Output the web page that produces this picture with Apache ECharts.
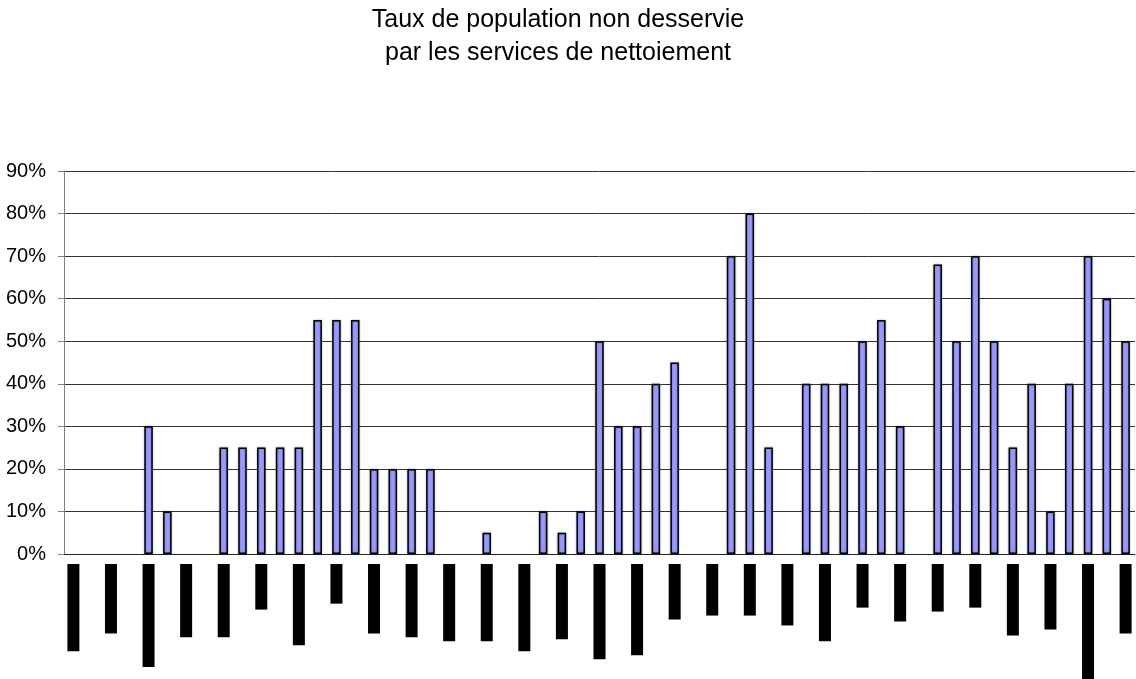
<!DOCTYPE html>
<html>
<head>
<meta charset="utf-8">
<script src="https://cdn.jsdelivr.net/npm/echarts@6/dist/echarts.min.js"></script>
<style>
  html, body { margin: 0; padding: 0; background: #fff; }
  #main { width: 1136px; height: 679px; }
</style>
</head>
<body>
<div id="main"></div>
<script>
// 57 categories, labels are unreadable (shown as black blocks in the source)
var categories = [];
for (var i = 1; i <= 57; i++) categories.push('C' + i);

// taux de population non desservie (%), null = no bar
var rates = [
  null, null, null, null, 30, 10, null, null, 25, 25,
  25, 25, 25, 55, 55, 55, 20, 20, 20, 20,
  null, null, 5, null, null, 10, 5, 10, 50, 30,
  30, 40, 45, null, null, 70, 80, 25, null, 40,
  40, 40, 50, 55, 30, null, 68, 50, 70, 50,
  25, 40, 10, 40, 70, 60, 50
];

// length of the (masked) category labels, one every two categories
var labelLength = [
  88, null, 70, null, 104, null, 74, null, 74, null,
  46, null, 82, null, 40, null, 70, null, 74, null,
  78, null, 78, null, 88, null, 76, null, 96, null,
  92, null, 56, null, 52, null, 52, null, 62, null,
  78, null, 44, null, 58, null, 48, null, 44, null,
  72, null, 66, null, 120, null, 70
];

var yTicks = [0, 10, 20, 30, 40, 50, 60, 70, 80, 90];

var chart = echarts.init(document.getElementById('main'), null, { renderer: 'canvas' });

var option = {
  animation: false,
  backgroundColor: '#fff',
  textStyle: { fontFamily: 'Liberation Sans, Arial, sans-serif' },
  title: {
    text: 'Taux de population non desservie\npar les services de nettoiement',
    left: 553,
    top: -1,
    textAlign: 'center',
    textStyle: {
      fontFamily: 'Liberation Sans, Arial, sans-serif',
      fontSize: 25,
      fontWeight: 'normal',
      color: '#000',
      lineHeight: 33
    }
  },
  grid: [
    { left: 64, right: 1, top: 171, height: 383 },
    { left: 64, right: 1, top: 564, height: 116 }
  ],
  xAxis: [
    {
      gridIndex: 0,
      type: 'category',
      data: categories,
      axisLine: { lineStyle: { color: '#222', width: 1 } },
      axisTick: { show: false },
      axisLabel: { show: false }
    },
    {
      gridIndex: 1,
      type: 'category',
      data: categories,
      show: false
    }
  ],
  yAxis: [
    {
      gridIndex: 0,
      type: 'value',
      min: yTicks[0],
      max: yTicks[yTicks.length - 1],
      interval: 10,
      axisLine: { show: true, lineStyle: { color: '#808080', width: 1 } },
      axisTick: { show: true, length: 6, lineStyle: { color: '#808080' } },
      axisLabel: {
        formatter: '{value}%',
        fontSize: 20,
        color: '#000',
        margin: 18
      },
      splitLine: { lineStyle: { color: '#333', width: 1 } }
    },
    {
      gridIndex: 1,
      type: 'value',
      min: 0,
      max: 116,
      inverse: true,
      show: false
    }
  ],
  series: [
    {
      name: 'taux',
      type: 'bar',
      xAxisIndex: 0,
      yAxisIndex: 0,
      barWidth: 8.5,
      data: rates,
      itemStyle: {
        color: '#9999FF',
        borderColor: '#000',
        borderWidth: 1.5,
        shadowColor: 'rgba(0,0,0,0.35)',
        shadowBlur: 2
      }
    },
    {
      name: 'labels',
      type: 'bar',
      xAxisIndex: 1,
      yAxisIndex: 1,
      barWidth: 12,
      data: labelLength,
      itemStyle: { color: '#000' }
    }
  ]
};

chart.setOption(option);
</script>
</body>
</html>
